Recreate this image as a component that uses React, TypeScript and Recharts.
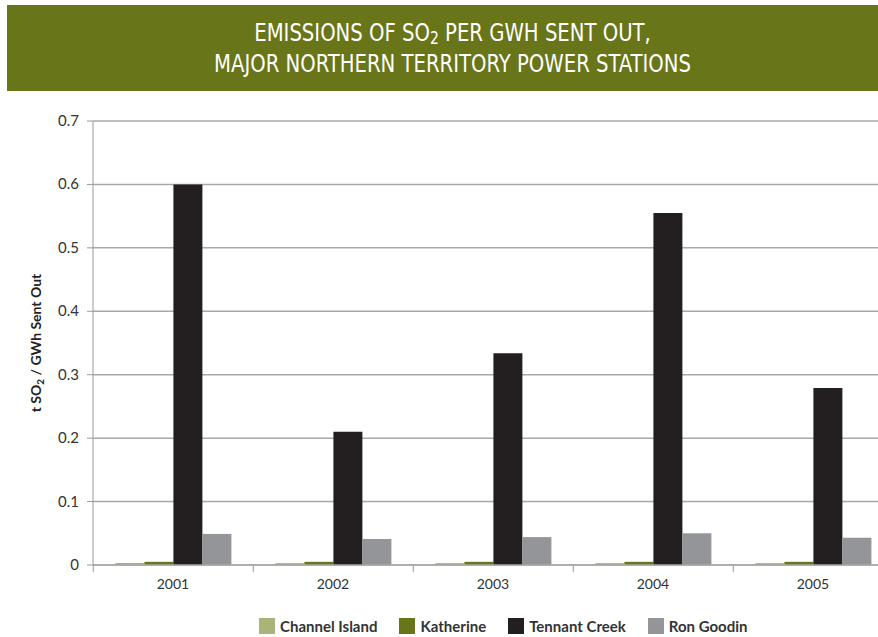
import React from 'react'
import { BarChart, Bar, XAxis, YAxis, CartesianGrid } from 'recharts'

// SO2 emissions per GWh sent out, by station
const years = ['2001', '2002', '2003', '2004', '2005']
const channelIsland = [0.003, 0.003, 0.003, 0.003, 0.003]
const katherine = [0.005, 0.005, 0.005, 0.005, 0.005]
const tennantCreek = [0.6, 0.21, 0.334, 0.555, 0.279]
const ronGoodin = [0.049, 0.041, 0.044, 0.05, 0.043]
const yTicks = [0, 0.1, 0.2, 0.3, 0.4, 0.5, 0.6, 0.7]

const series = [
  { key: 'channelIsland', name: 'Channel Island', color: '#a9b47a' },
  { key: 'katherine', name: 'Katherine', color: '#687619' },
  { key: 'tennantCreek', name: 'Tennant Creek', color: '#231f20' },
  { key: 'ronGoodin', name: 'Ron Goodin', color: '#939598' },
]

const data = years.map((year, i) => ({
  year,
  channelIsland: channelIsland[i],
  katherine: katherine[i],
  tennantCreek: tennantCreek[i],
  ronGoodin: ronGoodin[i],
}))

const FONT = 'Lato, "Open Sans", sans-serif'
const BAND = 159.5

// x ticks sit on the category boundaries, labels in the middle
const YearTick = (props: any) => {
  const { x, y, payload, index } = props
  return (
    <g>
      <line x1={x - BAND / 2} y1={y} x2={x - BAND / 2} y2={y + 7} stroke="#999" strokeWidth={1} />
      {index === years.length - 1 && (
        <line x1={x + BAND / 2} y1={y} x2={x + BAND / 2} y2={y + 7} stroke="#999" strokeWidth={1} />
      )}
      <text x={x} y={y + 24} textAnchor="middle" fontSize={14} fill="#333" fontFamily={FONT}>
        {payload.value}
      </text>
    </g>
  )
}

const ValueTick = (props: any) => {
  const { x, y, payload } = props
  return (
    <text x={x} y={y + 5} textAnchor="end" fontSize={15} fill="#333" fontFamily={FONT}>
      {payload.value}
    </text>
  )
}

const AxisTitle = (props: any) => {
  const { viewBox } = props
  const cx = viewBox.x + 11
  const cy = viewBox.y + viewBox.height / 2
  return (
    <text
      transform={`rotate(-90, ${cx}, ${cy})`}
      x={cx}
      y={cy}
      textAnchor="middle"
      fontSize={14}
      fontWeight={700}
      fill="#222"
      fontFamily={FONT}
    >
      <tspan>t SO</tspan>
      <tspan fontSize={10} dy={3}>2</tspan>
      <tspan dy={-3}> / GWh Sent Out</tspan>
    </text>
  )
}

const LegendRow = () => (
  <div
    style={{
      position: 'absolute',
      left: 259,
      top: 617,
      display: 'flex',
      fontFamily: FONT,
    }}
  >
    {series.map((s, i) => (
      <div key={s.key} style={{ display: 'flex', alignItems: 'center', marginLeft: i === 0 ? 0 : 22 }}>
        <span style={{ width: 16, height: 16, background: s.color, display: 'inline-block', marginRight: 5 }} />
        <span style={{ fontSize: 15, fontWeight: 700, color: '#333' }}>{s.name}</span>
      </div>
    ))}
  </div>
)

export default function App() {
  return (
    <div style={{ position: 'absolute', left: 0, top: 0, width: 878, height: 637, overflow: 'hidden', background: '#fff' }}>
      <div
        style={{
          position: 'absolute',
          left: 7,
          top: 5,
          width: 871,
          height: 86,
          background: '#687518',
        }}
      />
      <div
        style={{
          position: 'absolute',
          left: 7,
          top: 5,
          width: 871,
          color: '#fff',
          textAlign: 'center',
          fontFamily: '"Liberation Sans Narrow", "DejaVu Sans Condensed", sans-serif',
          fontSize: 24,
          paddingTop: 16,
          paddingLeft: 22,
          boxSizing: 'border-box',
          transform: 'scaleX(0.91)',
        }}
      >
        <div style={{ height: 31, lineHeight: '24px' }}>
          EMISSIONS OF SO
          <span style={{ fontSize: 17, lineHeight: '17px', position: 'relative', top: 3 }}>2</span> PER GWH SENT OUT,
        </div>
        <div style={{ height: 27, lineHeight: '24px' }}>MAJOR NORTHERN TERRITORY POWER STATIONS</div>
      </div>
      <div style={{ position: 'absolute', left: 0, top: 0 }}>
        <BarChart
          width={895}
          height={637}
          data={data}
          margin={{ top: 121, right: 2, left: 30, bottom: 42 }}
          barCategoryGap="14%"
          barGap={0}
        >
          <CartesianGrid vertical={false} stroke="#a8a8a8" strokeWidth={1.5} />
          <XAxis
            dataKey="year"
            tick={<YearTick />}
            tickLine={false}
            tickSize={0}
            tickMargin={0}
            height={30}
            stroke="#a8a8a8"
            strokeWidth={1.5}
          />
          <YAxis
            width={63}
            domain={[0, 0.7]}
            ticks={yTicks}
            tick={<ValueTick />}
            tickSize={6}
            tickMargin={8}
            stroke="#999"
            tickLine={{ stroke: '#999' }}
            label={<AxisTitle />}
            interval={0}
          />
          {series.map((s) => (
            <Bar key={s.key} dataKey={s.key} name={s.name} fill={s.color} isAnimationActive={false} />
          ))}
        </BarChart>
      </div>
      <LegendRow />
    </div>
  )
}
